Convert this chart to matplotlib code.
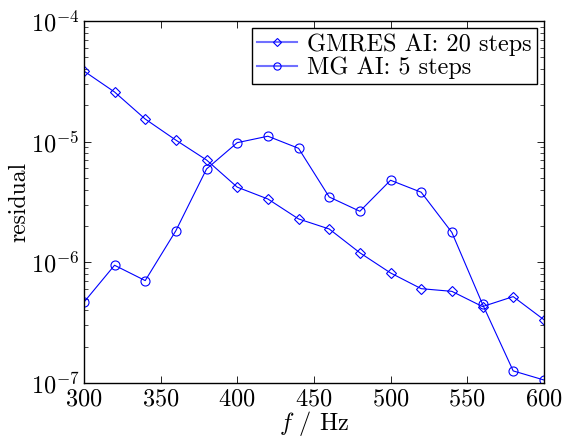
import matplotlib
matplotlib.use("Agg")
import matplotlib.pyplot as plt
import matplotlib.ticker as mticker

plt.rcParams["font.family"] = "serif"
plt.rcParams["font.serif"] = ["cmr10", "DejaVu Serif"]
plt.rcParams["mathtext.fontset"] = "cm"
plt.rcParams["axes.formatter.use_mathtext"] = True

# data
freq = [300, 320, 340, 360, 380, 400, 420, 440, 460, 480, 500, 520, 540, 560, 580, 600]
gmres_res = [3.85e-5, 2.58e-5, 1.54e-5, 1.03e-5, 7.05e-6, 4.2e-6, 3.35e-6, 2.29e-6,
             1.89e-6, 1.20e-6, 8.17e-7, 6.05e-7, 5.75e-7, 4.3e-7, 5.2e-7, 3.35e-7]
mg_res = [4.67e-7, 9.46e-7, 7.06e-7, 1.83e-6, 5.94e-6, 9.81e-6, 1.11e-5, 8.81e-6,
          3.48e-6, 2.65e-6, 4.79e-6, 3.81e-6, 1.77e-6, 4.5e-7, 1.26e-7, 1.06e-7]
labels = ["GMRES AI: 20 steps", "MG AI: 5 steps"]

fig = plt.figure(figsize=(5.63, 4.43), dpi=100)
ax = fig.add_axes([0.149, 0.1354, 0.817, 0.8172])

ax.semilogy(freq, gmres_res, color="b", lw=0.8, marker="D", ms=5.5,
            mfc="none", mec="b", mew=0.8, label=labels[0])
ax.semilogy(freq, mg_res, color="b", lw=0.8, marker="o", ms=6.5,
            mfc="none", mec="b", mew=0.8, label=labels[1])

ax.set_xlim(300, 600)
ax.set_ylim(1e-7, 1e-4)
ax.set_xticks([300, 350, 400, 450, 500, 550, 600])
ax.yaxis.set_major_locator(mticker.LogLocator(base=10, numticks=10))
ax.yaxis.set_minor_locator(mticker.LogLocator(base=10, subs=range(2, 10), numticks=20))
ax.yaxis.set_minor_formatter(mticker.NullFormatter())
ax.tick_params(which="both", direction="in", top=True, right=True, labelsize=17.5)
ax.tick_params(which="major", length=5, width=0.6)
ax.tick_params(which="minor", length=3, width=0.5)
ax.tick_params(axis="y", pad=3)
ax.tick_params(axis="x", pad=4)
for s in ax.spines.values():
    s.set_linewidth(1.0)

ax.set_xlabel("$f$ / Hz", fontsize=17.5, labelpad=-1)
ax.set_ylabel("residual", fontsize=17, labelpad=0)

leg = ax.legend(loc="upper right", fontsize=17.5, fancybox=False, framealpha=1,
                edgecolor="black", borderpad=0.2, handlelength=1.65,
                handletextpad=0.4, labelspacing=0.05, borderaxespad=0.3,
                markerscale=0.8)
leg.get_frame().set_linewidth(1.0)
for h in leg.legend_handles:
    h.set_color("#7070ff")
    h.set_markeredgecolor("b")
    h.set_linewidth(1.5)

fig.savefig("out.png", dpi=100)
